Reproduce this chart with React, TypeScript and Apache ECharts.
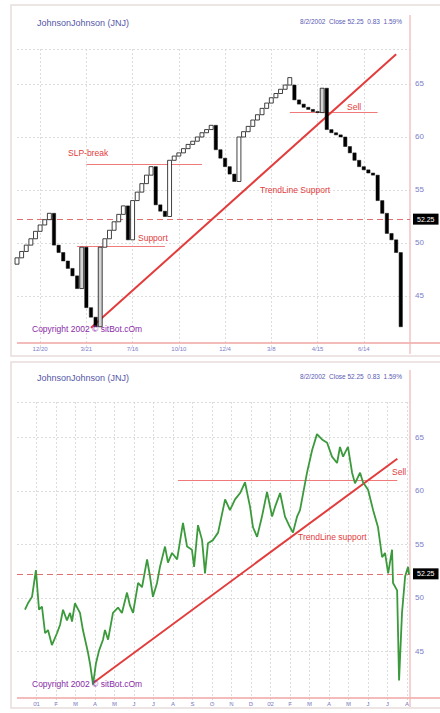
import React, { useEffect, useRef } from "react";
import * as echarts from "echarts";

// ---- Top panel: three line break bricks (one brick per column) ----
const brickOpen = [
  48.0, 48.6, 49.2, 49.8, 50.4, 51.1, 51.7, 52.2, 52.8, 49.8,
  49.1, 48.3, 47.6, 46.9, 45.7, 49.6, 43.9, 43.0, 42.1, 49.6,
  50.4, 51.2, 52.0, 52.7, 53.5, 50.3, 54.0, 54.8, 55.6, 56.4,
  57.2, 53.6, 53.0, 52.5, 57.8, 58.2, 58.5, 58.9, 59.3, 59.6,
  60.0, 60.4, 60.7, 61.1, 58.8, 58.0, 57.2, 56.5, 55.8, 60.0,
  60.5, 61.0, 61.6, 62.1, 62.7, 63.2, 63.7, 64.1, 64.5, 64.9,
  64.9, 63.5, 63.1, 62.8, 62.6, 62.4, 62.3, 64.6, 60.7, 60.4,
  60.2, 60.0, 59.1, 58.5, 57.8, 57.2, 56.9, 56.6, 56.4, 54.0,
  52.8, 50.9, 50.3, 49.1,
];
const brickClose = [
  48.6, 49.2, 49.8, 50.4, 51.1, 51.7, 52.2, 52.8, 49.8, 49.1,
  48.3, 47.6, 46.9, 45.7, 49.6, 43.9, 43.0, 42.1, 49.6, 50.4,
  51.2, 52.0, 52.7, 53.5, 50.3, 54.0, 54.8, 55.6, 56.4, 57.2,
  53.6, 53.0, 52.5, 57.8, 58.2, 58.5, 58.9, 59.3, 59.6, 60.0,
  60.4, 60.7, 61.1, 58.8, 58.0, 57.2, 56.5, 55.8, 60.0, 60.5,
  61.0, 61.6, 62.1, 62.7, 63.2, 63.7, 64.1, 64.5, 64.9, 65.6,
  63.5, 63.1, 62.8, 62.6, 62.4, 62.3, 64.6, 60.7, 60.4, 60.2,
  60.0, 59.1, 58.5, 57.8, 57.2, 56.9, 56.6, 56.4, 54.0, 52.8,
  50.9, 50.3, 49.1, 42.1,
];
const grayBricks = [14, 18, 66];
const brickSlots = 86;
const brickTickLabels = ["12/20", "3/21", "7/16", "10/10", "12/4", "3/8", "4/15", "6/14"];
const brickTickFirst = 5;
const brickTickStep = 10;

// ---- Bottom panel: daily-ish close line (x in months from Jan 2001) ----
const monthLabels = ["01", "F", "M", "A", "M", "J", "J", "A", "S", "O", "N", "D", "02", "F", "M", "A", "M", "J", "J", "A"];
const priceMonths = [
  -0.59, -0.44, -0.23, -0.03, 0.13, 0.28, 0.44, 0.59, 0.79, 1.05,
  1.21, 1.36, 1.56, 1.72, 1.82, 1.97, 2.23, 2.38, 2.64, 2.74,
  2.9, 3.05, 3.21, 3.41, 3.51, 3.67, 3.92, 4.18, 4.38, 4.64,
  4.79, 4.95, 5.21, 5.41, 5.67, 5.82, 5.97, 6.18, 6.33, 6.59,
  6.74, 6.95, 7.21, 7.51, 7.72, 7.97, 8.08, 8.28, 8.49, 8.64,
  8.79, 9.05, 9.31, 9.67, 9.92, 10.18, 10.44, 10.69, 10.95, 11.1,
  11.31, 11.56, 11.82, 12.08, 12.23, 12.49, 12.74, 13.0, 13.15, 13.36,
  13.51, 13.87, 14.13, 14.38, 14.64, 14.9, 15.15, 15.41, 15.56, 15.72,
  15.97, 16.18, 16.33, 16.59, 16.74, 17.0, 17.26, 17.51, 17.72, 17.87,
  18.03, 18.23, 18.28, 18.49, 18.59, 18.74, 18.9, 19.05, 19.1,
];
const priceValues = [
  48.9, 49.5, 50.1, 52.6, 48.9, 49.2, 46.7, 47.0, 45.6, 46.7,
  47.5, 48.9, 47.9, 48.6, 47.8, 49.5, 48.6, 47.0, 44.9, 43.9,
  41.9, 43.9, 45.1, 46.1, 47.0, 46.1, 48.6, 49.1, 48.6, 50.5,
  49.3, 48.6, 51.4, 51.0, 53.6, 52.0, 50.1, 51.4, 52.9, 54.8,
  53.3, 54.2, 53.6, 57.0, 54.8, 54.5, 52.9, 56.8, 55.4, 52.3,
  55.1, 55.4, 56.1, 59.2, 58.2, 59.2, 59.8, 60.8, 58.5, 56.6,
  55.7, 57.6, 59.9, 57.6, 58.5, 59.8, 57.6, 56.6, 56.1, 57.6,
  58.2, 61.7, 63.8, 65.3, 64.8, 64.5, 63.2, 62.6, 64.1, 63.2,
  64.1, 61.7, 60.7, 61.7, 60.8, 60.1, 58.2, 56.6, 53.8, 54.2,
  52.3, 54.5, 51.4, 50.7, 42.3, 48.6, 52.0, 52.9, 52.2,
];

// ---- Annotation levels ----
const lastClose = 52.25;
const topTrend = [[16, 42.0], [82, 67.8]];
const topSlpBreak = [[15, 57.4], [40, 57.4]];
const topSupport = [[13, 49.7], [32, 49.7]];
const topSell = [[59, 62.35], [78, 62.35]];
const bottomTrend = [[2.9, 42.06], [18.5, 63.0]];
const bottomSell = [[7.25, 61.0], [18.5, 61.0]];

const FONT = '"Liberation Sans", Arial, sans-serif';
const RED = "#e23c3c";
const LABEL_BLUE = "#7d7dc8";
const GRID_GRAY = "#dcdcdc";

function segment(pts: number[][], color: string, width: number) {
  const ls = { color, width, type: "solid" as const };
  return [
    { coord: pts[0], lineStyle: ls },
    { coord: pts[1], lineStyle: ls },
  ];
}

function closeLine() {
  return {
    yAxis: lastClose,
    lineStyle: { color: "#e07070", width: 1, type: [6, 4] },
    label: {
      show: true,
      position: "end",
      distance: 3,
      formatter: lastClose.toFixed(2),
      color: "#ffffff",
      backgroundColor: "#000000",
      fontSize: 7,
      fontFamily: FONT,
      padding: [2, 4],
    },
  };
}

const yFormatter = (v: number) => (v >= 45 && v <= 65 && v % 5 === 0 ? String(v) : "");

export default function App() {
  const ref = useRef<HTMLDivElement>(null);

  useEffect(() => {
    if (!ref.current) return;
    const chart = echarts.init(ref.current, null, { renderer: "svg" });

    const brickCats = Array.from({ length: brickSlots }, (_, i) => String(i));
    const isBrickTick = (i: number) => i >= brickTickFirst && (i - brickTickFirst) % brickTickStep === 0 && (i - brickTickFirst) / brickTickStep < brickTickLabels.length;

    const texts: any[] = [];
    const addText = (text: string, x: number, y: number, color: string, size: number, align = "left") =>
      texts.push({
        type: "text",
        z: 20,
        style: { text, x, y, fill: color, fontSize: size, fontFamily: FONT, align, verticalAlign: "middle" },
      });

    // panel headers
    [0, 355].forEach((dy) => {
      addText("JohnsonJohnson (JNJ)", 37, 23 + dy, "#5656a8", 9);
      addText("8/2/2002  Close 52.25  0.83  1.59%", 402, 21 + dy, "#5a5ab4", 6.5, "right");
    });
    addText("Copyright 2002 © sitBot.cOm", 32, 329, "#8a2aa8", 8.5);
    addText("Copyright 2002 © sitBot.cOm", 32, 684, "#8a2aa8", 8.5);
    addText("SLP-break", 68, 153, RED, 8.5);
    addText("Support", 138, 238, RED, 8.5);
    addText("TrendLine Support", 260, 190, RED, 8.5);
    addText("Sell", 347, 107, RED, 8.5);
    addText("Sell", 392, 472, RED, 8.5);
    addText("TrendLine support", 298, 537, RED, 8.5);

    const option: any = {
      animation: false,
      backgroundColor: "#ffffff",
      grid: [
        { left: 17, right: 30, top: 49, bottom: 364 },
        { left: 17, right: 30, top: 402, bottom: 8 },
      ],
      xAxis: [
        {
          type: "category",
          gridIndex: 0,
          data: brickCats,
          boundaryGap: false,
          axisLine: { show: false },
          axisTick: { show: false },
          axisLabel: {
            interval: (i: number) => isBrickTick(i),
            formatter: (_v: string, i: number) => (isBrickTick(i) ? brickTickLabels[(i - brickTickFirst) / brickTickStep] : ""),
            color: LABEL_BLUE,
            fontSize: 6,
            fontFamily: FONT,
            margin: -3,
          },
          splitLine: {
            show: true,
            interval: (i: number) => isBrickTick(i),
            lineStyle: { color: GRID_GRAY, type: [2, 2], width: 1 },
          },
        },
        {
          type: "value",
          gridIndex: 1,
          min: -1,
          max: 19.15,
          interval: 1,
          axisLine: { show: false },
          axisTick: { show: false },
          axisLabel: {
            formatter: (v: number) => (Number.isInteger(v) && v >= 0 && v < monthLabels.length ? monthLabels[v] : ""),
            color: LABEL_BLUE,
            fontSize: 6,
            fontFamily: FONT,
            margin: -4,
          },
          splitLine: {
            show: true,
            lineStyle: {
              color: ["transparent", ...Array(20).fill(GRID_GRAY), "transparent"],
              type: [2, 2],
              width: 1,
            },
          },
        },
      ],
      yAxis: [0, 1].map((g) => ({
        type: "value",
        gridIndex: g,
        position: "right",
        min: 40,
        max: 68.3,
        interval: 5,
        axisLine: { show: false },
        axisTick: { show: false },
        axisLabel: { formatter: yFormatter, color: LABEL_BLUE, fontSize: 8, fontFamily: FONT, margin: 5 },
        splitLine: {
          show: true,
          lineStyle: {
            color: ["transparent", GRID_GRAY, GRID_GRAY, GRID_GRAY, GRID_GRAY, GRID_GRAY, GRID_GRAY],
            type: [2, 2],
            width: 1,
          },
        },
      })),
      series: [
        {
          type: "custom",
          xAxisIndex: 0,
          yAxisIndex: 0,
          clip: false,
          data: brickOpen.map((o, i) => [i, o, brickClose[i], grayBricks.includes(i) ? 1 : 0]),
          encode: { x: 0, y: [1, 2] },
          renderItem: (_params: any, api: any) => {
            const i = api.value(0);
            const o = api.value(1);
            const c = api.value(2);
            const gray = api.value(3);
            const top = api.coord([i, Math.max(o, c)]);
            const bot = api.coord([i, Math.min(o, c)]);
            const band = api.size([1, 0])[0];
            const down = c < o;
            const w = band * (down ? 0.72 : 0.85);
            return {
              type: "rect",
              shape: { x: top[0] - w / 2, y: top[1], width: w, height: Math.max(1, bot[1] - top[1]) },
              style: {
                fill: down ? "#000000" : gray ? "#d4d4d4" : "#ffffff",
                stroke: "#111111",
                lineWidth: down ? 0.5 : 0.8,
              },
            };
          },
          markLine: {
            silent: true,
            symbol: ["none", "none"],
            label: { show: false },
            data: [
              closeLine(),
              segment(topSlpBreak, "#ee7a7a", 1),
              segment(topSupport, "#ee7a7a", 1),
              segment(topSell, "#ee7a7a", 1),
              segment(topTrend, RED, 2),
            ],
          },
          z: 5,
        },
        {
          type: "line",
          xAxisIndex: 1,
          yAxisIndex: 1,
          data: priceMonths.map((m, i) => [m, priceValues[i]]),
          showSymbol: false,
          lineStyle: { color: "#3b9a3b", width: 1.8 },
          markLine: {
            silent: true,
            symbol: ["none", "none"],
            label: { show: false },
            data: [
              closeLine(),
              segment(bottomSell, "#ee7a7a", 1),
              segment(bottomTrend, RED, 2),
            ],
          },
          z: 5,
        },
      ],
      graphic: [
        { type: "rect", z: 1, shape: { x: 11, y: 5, width: 440, height: 351 }, style: { fill: "none", stroke: "#e8dcdc", lineWidth: 1.5 } },
        { type: "rect", z: 1, shape: { x: 11, y: 362, width: 440, height: 346 }, style: { fill: "none", stroke: "#e8dcdc", lineWidth: 1.5 } },
        { type: "line", z: 3, shape: { x1: 17, y1: 343, x2: 440, y2: 343 }, style: { stroke: "#f0a4a4", lineWidth: 1.5 } },
        { type: "line", z: 3, shape: { x1: 410, y1: 15, x2: 410, y2: 354 }, style: { stroke: "#f0b4b4", lineWidth: 1.2 } },
        { type: "line", z: 3, shape: { x1: 17, y1: 698, x2: 440, y2: 698 }, style: { stroke: "#f0a4a4", lineWidth: 1.5 } },
        { type: "line", z: 3, shape: { x1: 410, y1: 370, x2: 410, y2: 707 }, style: { stroke: "#f0b4b4", lineWidth: 1.2 } },
        ...texts,
      ],
    };

    chart.setOption(option);
    return () => chart.dispose();
  }, []);

  return <div ref={ref} style={{ position: "absolute", left: 0, top: 0, width: 440, height: 713 }} />;
}
